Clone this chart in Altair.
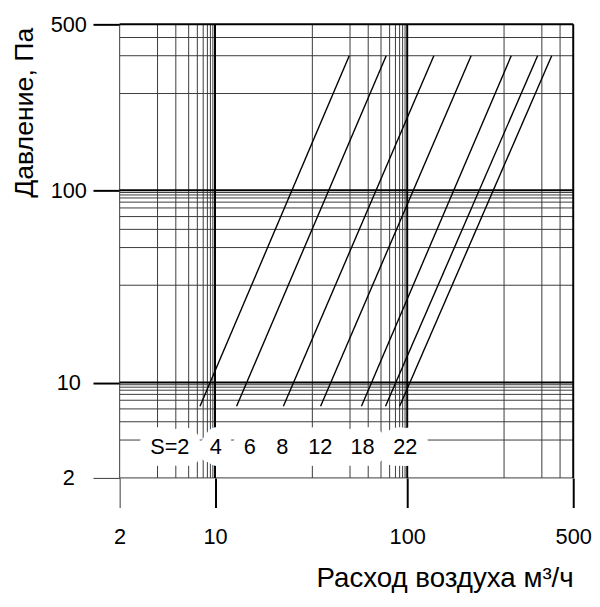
import altair as alt
import pandas as pd

FONT = "Liberation Sans"

# the printed axes are piecewise: each decade is drawn as 1->2 and 2->10 steps
breaks = [2, 10, 20, 100, 200, 500]
break_pos = [0, 96.5, 195, 291, 389, 459]

axis_values = [2, 10, 100, 500]
thin_lines = [2, 3.79, 5.16, 6.41, 7.42, 8.19, 8.79, 9.25, 9.64,
              20, 37.9, 51.6, 64.1, 74.2, 81.9, 87.9, 92.5, 96.4,
              200, 330, 420]
thick_lines = [10, 100, 500]

series = ["2", "4", "6", "8", "12", "18", "22"]
flow_low = [7.76, 11.66, 16.27, 23.0, 46.0, 69.2, 87.9]
flow_high = [37.4, 70.0, 121, 158, 220, 312, 376]
pressure_low = [6.7, 6.7, 6.7, 6.7, 6.7, 6.7, 6.7]
pressure_high = [330, 330, 330, 330, 330, 330, 330]

label_text = ["S=2", "4", "6", "8", "12", "18", "22"]
label_flow = [4.66, 10.06, 12.81, 16.16, 22.9, 46.8, 96.7]
label_pressure = [3.0, 3.0, 3.0, 3.0, 3.0, 3.0, 3.0]

lines_df = pd.DataFrame({
    "s": series + series,
    "q": flow_low + flow_high,
    "p": pressure_low + pressure_high,
})
labels_df = pd.DataFrame({"label": label_text, "q": label_flow, "p": label_pressure})
thin_df = pd.DataFrame({"v": thin_lines})
thick_df = pd.DataFrame({"v": thick_lines})

x_scale = alt.Scale(type="log", domain=breaks, range=break_pos, nice=False)
y_scale = alt.Scale(type="log", domain=breaks, range=[459 - r for r in break_pos], nice=False)

tick_color = {"condition": {"test": "datum.value == 2", "value": "#3a3a3a"}, "value": "black"}
tick_width = {"condition": {"test": "datum.value == 2", "value": 1}, "value": 2}

x_axis = alt.Axis(
    values=axis_values, format="d", grid=False, domain=False,
    tickSize=30, tickColor=tick_color, tickWidth=tick_width,
    labelFont=FONT, labelFontSize=22, labelColor="black",
    labelPadding=36, labelBaseline="alphabetic", labelFlush=False, labelOverlap=False,
    title="Расход воздуха м³/ч", titleFont=FONT, titleFontSize=28,
    titleFontWeight="normal", titleColor="black",
    titleX=459, titleY=110, titleAlign="right", titleBaseline="alphabetic",
)
y_axis = alt.Axis(
    values=axis_values, format="d", grid=False, domain=False,
    tickSize=27, tickColor=tick_color, tickWidth=tick_width,
    labelFont=FONT, labelFontSize=22, labelColor="black",
    labelPadding=25, labelAlign="center", labelBaseline="middle",
    labelFlush=False, labelOverlap=False,
    title="Давление, Па", titleFont=FONT, titleFontSize=27,
    titleFontWeight="normal", titleColor="black",
    titleAngle=270, titleX=-88, titleY=89, titleAlign="center", titleBaseline="alphabetic",
)


def xq(field):
    return alt.X(f"{field}:Q", scale=x_scale, axis=x_axis)


def yq(field):
    return alt.Y(f"{field}:Q", scale=y_scale, axis=y_axis)


v_thin = alt.Chart(thin_df).mark_rule(color="#3a3a3a", strokeWidth=1).encode(x=xq("v"))
h_thin = alt.Chart(thin_df).mark_rule(color="#3a3a3a", strokeWidth=1).encode(y=yq("v"))
v_thick = alt.Chart(thick_df).mark_rule(color="black", strokeWidth=2).encode(x=xq("v"))
h_thick = alt.Chart(thick_df).mark_rule(color="black", strokeWidth=2).encode(y=yq("v"))

curves = alt.Chart(lines_df).mark_line(color="black", strokeWidth=1.4).encode(
    x=xq("q"), y=yq("p"), detail="s:N"
)

halo = alt.Chart(labels_df).mark_text(
    font=FONT, fontSize=22, color="white", stroke="white", strokeWidth=24,
    strokeJoin="round", align="center", baseline="alphabetic",
).encode(x=xq("q"), y=yq("p"), text="label:N")

labels = alt.Chart(labels_df).mark_text(
    font=FONT, fontSize=22, color="black", align="center", baseline="alphabetic",
).encode(x=xq("q"), y=yq("p"), text="label:N")

chart = (
    alt.layer(v_thin, h_thin, v_thick, h_thick, curves, halo, labels)
    .properties(
        width=459, height=459, autosize="none",
        padding={"left": 113, "top": 13, "right": 19, "bottom": 120},
    )
    .configure_view(stroke=None)
)

chart.save("out.html", embed_options={"renderer": "svg", "actions": False})
